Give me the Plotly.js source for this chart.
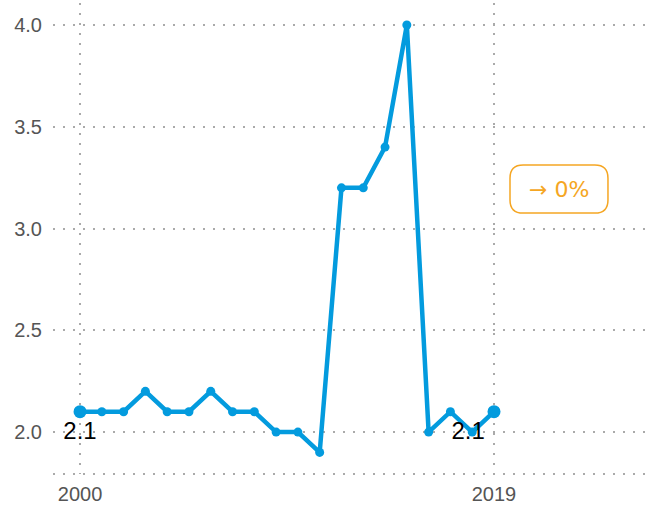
<!DOCTYPE html>
<html><head><meta charset="utf-8">
<script src="https://cdn.plot.ly/plotly-3.0.1.min.js"></script>
<style>body{margin:0;padding:0;background:#fff}#chart{width:652px;height:508px}</style>
</head><body><div id="chart"></div>
<script>
const years = [2000,2001,2002,2003,2004,2005,2006,2007,2008,2009,2010,2011,2012,2013,2014,2015,2016,2017,2018,2019];
const values = [2.1,2.1,2.1,2.2,2.1,2.1,2.2,2.1,2.1,2.0,2.0,1.9,3.2,3.2,3.4,4.0,2.0,2.1,2.0,2.1];
const yTicks = [2.0,2.5,3.0,3.5,4.0];
const xTicks = [2000,2019];
const changeLabel = '→ 0%';

const blue = '#039BDE';
const orange = '#F5A623';
const n = years.length;

const traces = [
  {x: years, y: values, type:'scatter', mode:'lines+markers',
   line:{color:blue, width:4.5}, marker:{color:blue, size:9}, hoverinfo:'skip'},
  {x: [years[0]], y:[values[0]], type:'scatter', mode:'markers+text',
   marker:{color:blue, size:13}, text:[values[0].toFixed(1)], textposition:'bottom center',
   textfont:{family:'Liberation Sans, Arial, sans-serif', size:24, color:'#000'}, hoverinfo:'skip'},
  {x: [years[n-1]], y:[values[n-1]], type:'scatter', mode:'markers+text',
   marker:{color:blue, size:13}, text:[values[n-1].toFixed(1)], textposition:'bottom left',
   textfont:{family:'Liberation Sans, Arial, sans-serif', size:24, color:'#000'}, hoverinfo:'skip'}
];

// rounded box in paper coords
const x0=0.7655, x1=0.9296, y0=0.554, y1=0.656, rx=0.022, ry=0.028;
const boxPath = `M ${x0+rx},${y1} L ${x1-rx},${y1} Q ${x1},${y1} ${x1},${y1-ry} L ${x1},${y0+ry} Q ${x1},${y0} ${x1-rx},${y0} L ${x0+rx},${y0} Q ${x0},${y0} ${x0},${y0+ry} L ${x0},${y1-ry} Q ${x0},${y1} ${x0+rx},${y1} Z`;

const layout = {
  width:652, height:508,
  margin:{l:53, r:2, t:3, b:34},
  paper_bgcolor:'#fff', plot_bgcolor:'#fff',
  showlegend:false,
  font:{family:'Liberation Sans, Arial, sans-serif', color:'#555', size:20},
  xaxis:{range:[1998.76, 2026.16], tickvals:xTicks, ticktext:xTicks.map(String),
    showgrid:true, gridcolor:'#aaaaaa', gridwidth:2, griddash:'2px,8px',
    zeroline:false, showline:false, ticks:'', ticklabelstandoff:6,
    tickfont:{size:20, color:'#555'}},
  yaxis:{range:[1.794, 4.108], tickvals:yTicks, ticktext:yTicks.map(v=>v.toFixed(1)),
    showgrid:true, gridcolor:'#aaaaaa', gridwidth:2, griddash:'2px,8px',
    zeroline:false, showline:false, ticks:'', ticklabelstandoff:10,
    tickfont:{size:20, color:'#555'}},
  shapes:[
    {type:'line', xref:'paper', yref:'paper', x0:0, x1:1, y0:0, y1:0,
     line:{color:'#aaaaaa', width:2, dash:'2px,8px'}, layer:'below'},
    {type:'path', xref:'paper', yref:'paper', path:boxPath,
     line:{color:orange, width:1.5}, fillcolor:'rgba(0,0,0,0)'}
  ],
  annotations:[
    {xref:'paper', yref:'paper', x:(x0+x1)/2, y:(y0+y1)/2, text:changeLabel, showarrow:false,
     font:{size:22, color:orange, family:'DejaVu Sans, sans-serif'}, xanchor:'center', yanchor:'middle'}
  ]
};
Plotly.newPlot('chart', traces, layout, {displayModeBar:false, staticPlot:true});
</script></body></html>
